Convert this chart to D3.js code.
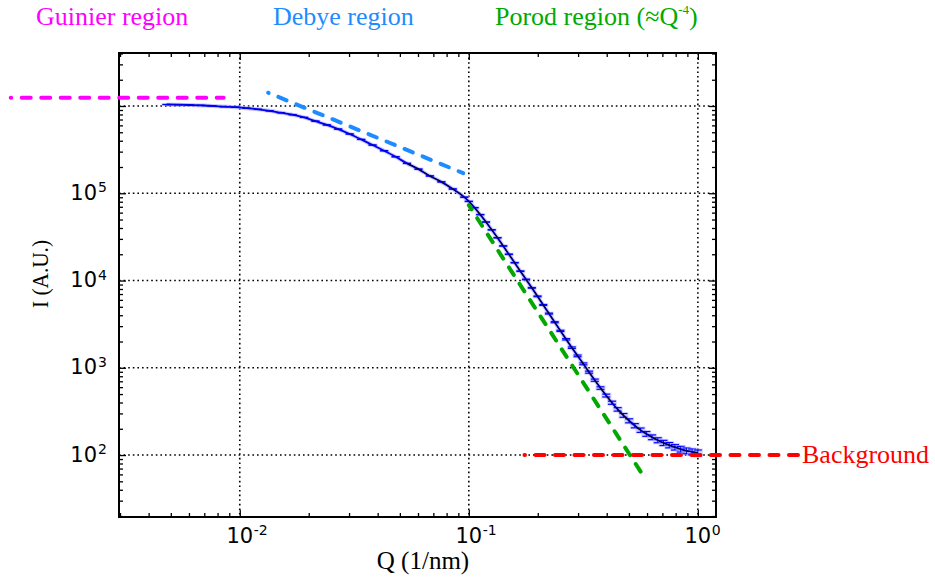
<!DOCTYPE html>
<html>
<head>
<meta charset="utf-8">
<script src="https://cdn.jsdelivr.net/npm/d3@7"></script>
<style>
  body { margin: 0; background: #fff; }
  svg { display: block; }
</style>
</head>
<body>
<svg id="chart" width="935" height="577"></svg>
<script>
// scattering vector Q (1/nm)
const qValues = [0.00479, 0.00537, 0.00603, 0.00676, 0.00759, 0.00851, 0.00955, 0.0107, 0.0120, 0.0135,
  0.0151, 0.0170, 0.0191, 0.0214, 0.0240, 0.0269, 0.0302, 0.0339, 0.0380, 0.0427,
  0.0479, 0.0537, 0.0603, 0.0676, 0.0759, 0.0851, 0.0955,
  0.100, 0.1059, 0.1122, 0.1189, 0.1259, 0.1334, 0.1413, 0.1496, 0.1585, 0.1679,
  0.1778, 0.1884, 0.1995, 0.2113, 0.2239, 0.2371, 0.2512, 0.2661, 0.2818, 0.2985,
  0.3162, 0.3350, 0.3548, 0.3758, 0.3981, 0.4217, 0.4467, 0.4732, 0.5012, 0.5309,
  0.5623, 0.5957, 0.6310, 0.6683, 0.7079, 0.7499, 0.7943, 0.8414, 0.8913, 0.9441, 1.0];

// intensity I (A.U.)
const iValues = [1.040e6, 1.035e6, 1.027e6, 1.016e6, 1.003e6, 9.84e5, 9.69e5, 9.44e5, 9.17e5, 8.81e5,
  8.38e5, 7.95e5, 7.40e5, 6.70e5, 6.07e5, 5.44e5, 4.78e5, 4.14e5, 3.57e5, 3.07e5,
  2.62e5, 2.20e5, 1.89e5, 1.58e5, 1.35e5, 1.12e5, 9.02e4,
  8.07e4, 6.84e4, 5.69e4, 4.68e4, 3.81e4, 3.09e4, 2.49e4, 2.00e4, 1.60e4, 1.28e4,
  1.03e4, 8240, 6590, 5250, 4180, 3330, 2650, 2120, 1700, 1370,
  1110, 891, 721, 586, 481, 398, 334, 285, 247, 217,
  193, 175, 160, 148, 138, 130, 123, 117, 112, 109, 106];

// error on I
const iErrors = [820, 810, 810, 810, 800, 790, 790, 780, 770, 750,
  730, 710, 690, 650, 620, 590, 550, 510, 480, 440,
  410, 380, 350, 320, 290, 270, 240,
  230, 210, 190, 170, 160, 140, 130, 110, 100, 90,
  81, 73, 65, 58, 52, 46, 41, 37, 33, 30,
  27, 24, 21, 19, 18, 16, 15, 14, 13, 12,
  11, 11, 10, 9.7, 9.4, 9.1, 8.9, 8.7, 8.5, 8.4, 8.2];

// guide lines for the regions
const guinierQ = [0.001, 0.0085], guinierI = [1.24e6, 1.24e6];
const debyeQ = [0.0133, 0.0945], debyeI = [1.42e6, 1.7e5];
const porodQ = [0.1, 0.58], porodI = [7.3e4, 57];
const backgroundQ = [0.175, 2.8], backgroundI = [100, 100];

const xMajor = [1e-2, 1e-1, 1];
const xExponents = ["-2", "-1", "0"];
const yMajor = [1e2, 1e3, 1e4, 1e5, 1e6];
// only these decades carry a label (10^6 is left bare)
const yLabelled = [1e2, 1e3, 1e4, 1e5];
const yExponents = ["2", "3", "4", "5"];

const svg = d3.select("#chart");
const m = {left: 119, top: 53, right: 716, bottom: 517};

const x = d3.scaleLog().domain([0.00297, 1.2]).range([m.left, m.right]);
const y = d3.scaleLog().domain([19.5, 4.05e6]).range([m.bottom, m.top]);

const data = qValues.map((q, i) => ({q: q, I: iValues[i], e: iErrors[i]}));

// dotted grid at the decades
const grid = svg.append("g")
    .attr("stroke", "#000")
    .attr("stroke-width", 1.6)
    .attr("stroke-dasharray", "1.6,3");
grid.selectAll(".gx").data(xMajor).join("line")
    .attr("x1", d => x(d)).attr("x2", d => x(d))
    .attr("y1", m.top).attr("y2", m.bottom);
grid.selectAll(".gy").data(yMajor).join("line")
    .attr("x1", m.left).attr("x2", m.right)
    .attr("y1", d => y(d)).attr("y2", d => y(d));

// minor ticks on all four sides, pointing inwards
const isMajor = v => Math.abs(Math.log10(v) - Math.round(Math.log10(v))) < 1e-6;
const xMinor = x.ticks().filter(v => !isMajor(v));
const yMinor = y.ticks().filter(v => !isMajor(v));

function tickAxis(axis, tr) {
  const g = svg.append("g").attr("transform", tr).call(axis);
  g.select(".domain").remove();
  g.selectAll("text").remove();
  g.selectAll("line").attr("stroke", "#000").attr("stroke-width", 1.3);
}
tickAxis(d3.axisBottom(x).tickValues(xMinor).tickSize(-4), `translate(0,${m.bottom})`);
tickAxis(d3.axisTop(x).tickValues(xMinor).tickSize(-4), `translate(0,${m.top})`);
tickAxis(d3.axisLeft(y).tickValues(yMinor).tickSize(-4), `translate(${m.left},0)`);
tickAxis(d3.axisRight(y).tickValues(yMinor).tickSize(-4), `translate(${m.right},0)`);
tickAxis(d3.axisBottom(x).tickValues(xMajor).tickSize(-7), `translate(0,${m.bottom})`);
tickAxis(d3.axisTop(x).tickValues(xMajor).tickSize(-7), `translate(0,${m.top})`);
tickAxis(d3.axisLeft(y).tickValues(yMajor).tickSize(-7), `translate(${m.left},0)`);
tickAxis(d3.axisRight(y).tickValues(yMajor).tickSize(-7), `translate(${m.right},0)`);

// frame
svg.append("rect")
    .attr("x", m.left).attr("y", m.top)
    .attr("width", m.right - m.left).attr("height", m.bottom - m.top)
    .attr("fill", "none").attr("stroke", "#000").attr("stroke-width", 2);

// tick labels 10^n
const tickFont = "'DejaVu Sans', sans-serif";
xMajor.forEach((v, i) => {
  svg.append("text").attr("x", x(v)).attr("y", 543)
      .attr("text-anchor", "middle").attr("font-family", tickFont).attr("font-size", 21)
      .text("10");
  svg.append("text").attr("x", x(v) + 14).attr("y", 535)
      .attr("font-family", tickFont).attr("font-size", 14)
      .text(xExponents[i]);
});
yLabelled.forEach((v, i) => {
  svg.append("text").attr("x", 97).attr("y", y(v) + 6.5)
      .attr("text-anchor", "end").attr("font-family", tickFont).attr("font-size", 21)
      .text("10");
  svg.append("text").attr("x", 98).attr("y", y(v) - 1)
      .attr("font-family", tickFont).attr("font-size", 14)
      .text(yExponents[i]);
});

// axis titles
const serif = "'Liberation Serif', 'Times New Roman', serif";
svg.append("text").attr("x", 423).attr("y", 569)
    .attr("text-anchor", "middle").attr("font-family", serif).attr("font-size", 25)
    .text("Q (1/nm)");
svg.append("text").attr("transform", "translate(48,274) rotate(-90)")
    .attr("text-anchor", "middle").attr("font-family", serif).attr("font-size", 23)
    .attr("textLength", 68).attr("lengthAdjust", "spacingAndGlyphs")
    .text("I (A.U.)");

// data: error bars + line
const line = d3.line().x(d => x(d.q)).y(d => y(d.I)).curve(d3.curveMonotoneX);

svg.append("path").datum(data)
    .attr("d", line).attr("fill", "none")
    .attr("stroke", "#a8a8ff").attr("stroke-width", 4).attr("stroke-opacity", 0.6);

const bars = svg.append("g").selectAll("g").data(data).join("g");
bars.append("rect")
    .attr("x", d => x(d.q) - 5).attr("width", 10)
    .attr("y", d => y(d.I + d.e) - 1.5)
    .attr("height", d => y(d.I - d.e) - y(d.I + d.e) + 3)
    .attr("fill", "#b4b4ff").attr("fill-opacity", 0.55);
bars.append("line")
    .attr("x1", d => x(d.q)).attr("x2", d => x(d.q))
    .attr("y1", d => y(d.I + d.e)).attr("y2", d => y(d.I - d.e))
    .attr("stroke", "#0000ff").attr("stroke-width", 1);
bars.selectAll(".cap").data(d => [[d.q, d.I + d.e], [d.q, d.I - d.e]]).join("line")
    .attr("x1", d => x(d[0]) - 4).attr("x2", d => x(d[0]) + 4)
    .attr("y1", d => y(d[1])).attr("y2", d => y(d[1]))
    .attr("stroke", "#0000ff").attr("stroke-width", 1.2);

svg.append("path").datum(data)
    .attr("d", line).attr("fill", "none")
    .attr("stroke", "#0000e6").attr("stroke-width", 1.8);

svg.append("path").datum(data.filter(d => d.q >= 0.05))
    .attr("d", line).attr("fill", "none")
    .attr("stroke", "#000").attr("stroke-width", 1);

// dashed guide lines
function guide(qs, is, color, offset) {
  svg.append("line")
      .attr("x1", x(qs[0])).attr("y1", y(is[0]))
      .attr("x2", x(qs[1])).attr("y2", y(is[1]))
      .attr("stroke", color).attr("stroke-width", 4)
      .attr("stroke-linecap", "round")
      .attr("stroke-dasharray", "9,10.5")
      .attr("stroke-dashoffset", offset);
}
guide(guinierQ, guinierI, "#ff00ff", 8.5);
guide(debyeQ, debyeI, "#1e8cff", 8.5);
guide(porodQ, porodI, "#00a800", 4);
guide(backgroundQ, backgroundI, "#ff0000", 8.5);

// region labels
svg.append("text").attr("x", 36).attr("y", 25)
    .attr("font-family", serif).attr("font-size", 26).attr("fill", "#ff00ff")
    .text("Guinier region");
svg.append("text").attr("x", 273).attr("y", 25)
    .attr("font-family", serif).attr("font-size", 26).attr("fill", "#1e8cff")
    .text("Debye region");
const porod = svg.append("text").attr("x", 495).attr("y", 25)
    .attr("font-family", serif).attr("font-size", 26).attr("fill", "#00aa00");
porod.append("tspan").text("Porod region (≈Q");
porod.append("tspan").attr("font-size", 13).attr("dy", -11).text("-4");
porod.append("tspan").attr("dy", 11).text(")");
svg.append("text").attr("x", 802).attr("y", 463)
    .attr("font-family", serif).attr("font-size", 26).attr("fill", "#ff0000")
    .text("Background");
</script>
</body>
</html>
